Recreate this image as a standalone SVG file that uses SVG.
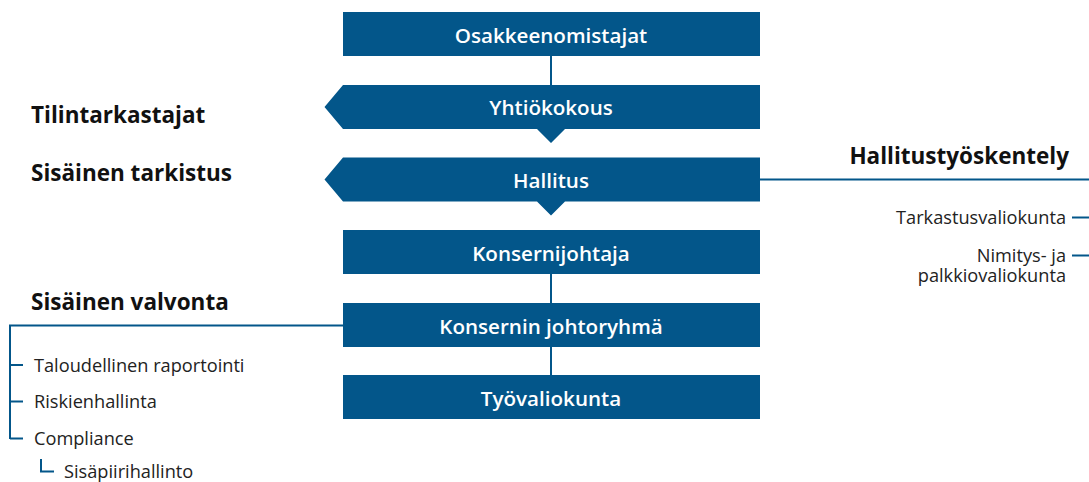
<svg xmlns="http://www.w3.org/2000/svg" width="1089" height="482" viewBox="0 0 1089 482">
  <style>
    .box { fill: #03568a; }
    .line { stroke: #03568a; stroke-width: 2; fill: none; }
    .bt { font-family: "Open Sans", "Liberation Sans", sans-serif; font-size: 20.6px; font-weight: 600; fill: #ffffff; text-anchor: middle; }
    .hd { font-family: "Open Sans", "Liberation Sans", sans-serif; font-size: 22.5px; font-weight: 700; fill: #111111; }
    .it { font-family: "Open Sans", "Liberation Sans", sans-serif; font-size: 18.2px; fill: #222222; }
  </style>
  <rect width="1089" height="482" fill="#ffffff"/>

  <!-- connectors -->
  <g id="connectors">
    <line class="line" x1="551" y1="56" x2="551" y2="86"/>
    <line class="line" x1="551" y1="274" x2="551" y2="303"/>
    <line class="line" x1="551" y1="347" x2="551" y2="375"/>
    <line class="line" x1="760" y1="179.5" x2="1089" y2="179.5"/>
    <line class="line" x1="1072" y1="217.5" x2="1089" y2="217.5"/>
    <line class="line" x1="1072" y1="255.5" x2="1089" y2="255.5"/>
    <polyline class="line" points="343,325.5 10,325.5 10,439"/>
    <line class="line" x1="10" y1="365" x2="23" y2="365"/>
    <line class="line" x1="10" y1="401.5" x2="23" y2="401.5"/>
    <line class="line" x1="10" y1="438.5" x2="23" y2="438.5"/>
    <polyline class="line" points="41,459 41,471.5 54,471.5"/>
  </g>

  <g id="osakkeenomistajat">
    <rect class="box" x="343" y="12" width="417" height="44"/>
    <text class="bt" x="551" y="42.5">Osakkeenomistajat</text>
  </g>
  <g id="yhtiokokous">
    <polygon class="box" points="343,85 760,85 760,129 565,129 551,143 537,129 343,129 324.5,107"/>
    <text class="bt" x="551" y="115">Yhtiökokous</text>
  </g>
  <g id="hallitus">
    <polygon class="box" points="343,157.5 760,157.5 760,201.5 565,201.5 551,215.5 537,201.5 343,201.5 324.5,179.5"/>
    <text class="bt" x="551" y="188">Hallitus</text>
  </g>
  <g id="konsernijohtaja">
    <rect class="box" x="343" y="230" width="417" height="44"/>
    <text class="bt" x="551" y="260.5">Konsernijohtaja</text>
  </g>
  <g id="johtoryhma">
    <rect class="box" x="343" y="303" width="417" height="44"/>
    <text class="bt" x="551" y="333.5">Konsernin johtoryhmä</text>
  </g>
  <g id="tyovaliokunta">
    <rect class="box" x="343" y="375" width="417" height="44"/>
    <text class="bt" x="551" y="405.5">Työvaliokunta</text>
  </g>

  <g id="tilintarkastajat">
    <text class="hd" x="31" y="123">Tilintarkastajat</text>
  </g>
  <g id="sisainen-tarkistus">
    <text class="hd" x="31" y="181">Sisäinen tarkistus</text>
  </g>
  <g id="hallitustyoskentely">
    <text class="hd" x="1069" y="163.5" text-anchor="end">Hallitustyöskentely</text>
    <text class="it" x="1066" y="223.5" text-anchor="end">Tarkastusvaliokunta</text>
    <text class="it" text-anchor="end"><tspan x="1066" y="261.5">Nimitys- ja</tspan><tspan x="1066" y="282">palkkiovaliokunta</tspan></text>
  </g>
  <g id="sisainen-valvonta">
    <text class="hd" x="31" y="310">Sisäinen valvonta</text>
    <text class="it" x="34" y="371.5">Taloudellinen raportointi</text>
    <text class="it" x="34" y="408">Riskienhallinta</text>
    <text class="it" x="34" y="445">Compliance</text>
    <text class="it" x="64" y="477.5">Sisäpiirihallinto</text>
  </g>
</svg>
